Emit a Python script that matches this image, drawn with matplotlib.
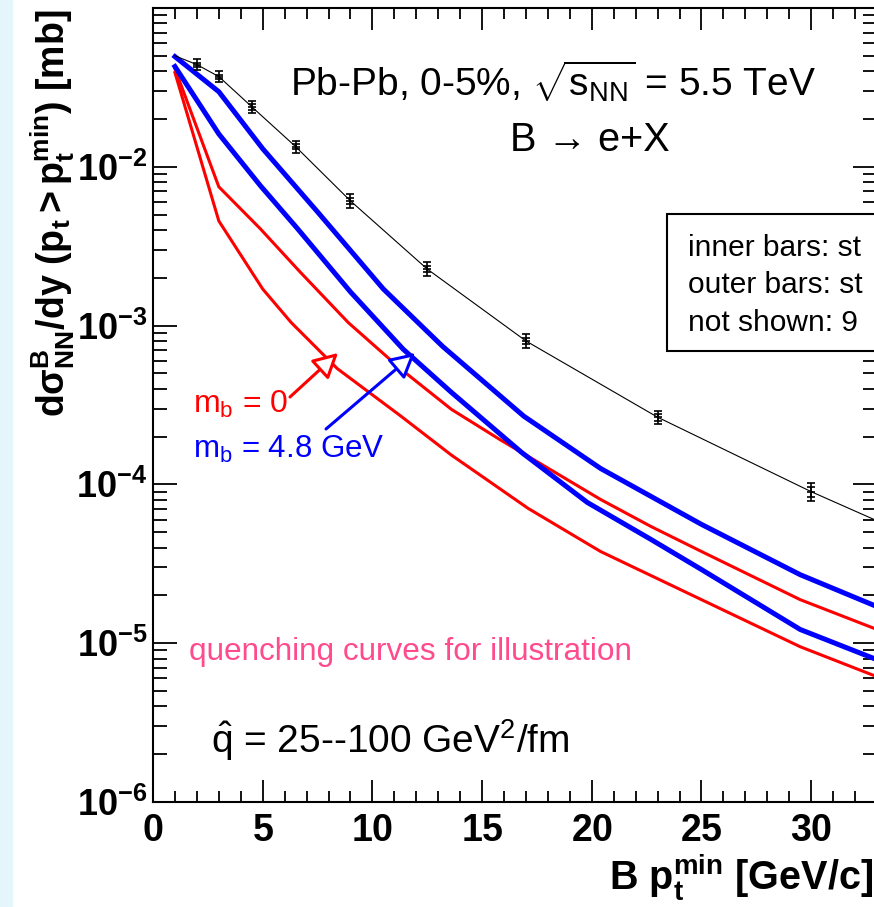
import matplotlib
matplotlib.use('Agg')
import matplotlib.pyplot as plt
from matplotlib.patches import Rectangle
from matplotlib.ticker import FixedLocator, MultipleLocator, LogLocator, NullFormatter, FuncFormatter
import numpy as np

plt.rcParams['font.family'] = ['Liberation Sans', 'DejaVu Sans']
plt.rcParams['mathtext.fontset'] = 'custom'
plt.rcParams['mathtext.rm'] = 'Liberation Sans'
plt.rcParams['mathtext.it'] = 'Liberation Sans:italic'
plt.rcParams['mathtext.bf'] = 'Liberation Sans:bold'
plt.rcParams['mathtext.default'] = 'regular'

# ---------------- data ----------------
# reference (no quenching) with error bars
ref_curve_x = [1, 2, 3, 4.5, 6.5, 9, 12.5, 17, 23, 30, 33]
ref_curve_y = [5.0e-2, 4.40e-2, 3.70e-2, 2.39e-2, 1.34e-2, 6.1e-3, 2.27e-3, 8.0e-4, 2.65e-4, 9.0e-5, 5.9e-5]
pt_x = [2, 3, 4.5, 6.5, 9, 12.5, 17, 23, 30]
pt_y = [4.40e-2, 3.70e-2, 2.39e-2, 1.34e-2, 6.1e-3, 2.27e-3, 8.0e-4, 2.65e-4, 9.0e-5]
err_inner_rel = [0.03, 0.03, 0.04, 0.04, 0.04, 0.04, 0.04, 0.05, 0.07]
err_outer_rel = [0.08, 0.08, 0.09, 0.09, 0.10, 0.10, 0.10, 0.10, 0.13]

# m_b = 4.8 GeV (blue)
blue1_x = [1, 3, 5, 7.5, 10.5, 13.2, 16.9, 20.4, 25, 29.5, 33]
blue1_y = [4.94e-2, 2.97e-2, 1.30e-2, 5.2e-3, 1.7e-3, 7.4e-4, 2.69e-4, 1.26e-4, 5.6e-5, 2.7e-5, 1.7e-5]
blue2_x = [1, 3, 4.9, 6.6, 9, 11.4, 13.6, 16.8, 19.8, 22.7, 25, 29.5, 33]
blue2_y = [4.28e-2, 1.61e-2, 7.59e-3, 4.06e-3, 1.63e-3, 7.11e-4, 3.80e-4, 1.59e-4, 7.69e-5, 4.50e-5, 2.91e-5, 1.22e-5, 7.87e-6]

# m_b = 0 (red)
red1_x = [1, 3, 4.9, 6.7, 8.9, 11.3, 13.6, 15.8, 20.4, 22.7, 25, 29.5, 33]
red1_y = [4.15e-2, 7.48e-3, 4.06e-3, 2.18e-3, 1.045e-3, 5.32e-4, 2.97e-4, 1.92e-4, 8.04e-5, 5.43e-5, 3.78e-5, 1.88e-5, 1.22e-5]
red2_x = [1, 3, 5, 6.3, 8.4, 11.3, 13.6, 17.1, 20.4, 25, 29.5, 33]
red2_y = [3.92e-2, 4.56e-3, 1.70e-3, 1.045e-3, 5.36e-4, 2.69e-4, 1.53e-4, 7.06e-5, 3.78e-5, 1.88e-5, 9.5e-6, 6.15e-6]

x_ticks = [0, 5, 10, 15, 20, 25, 30]
y_ticks = [1e-6, 1e-5, 1e-4, 1e-3, 1e-2]

# ---------------- figure ----------------
W, H = 874, 907
fig = plt.figure(figsize=(W / 100, H / 100), dpi=100, facecolor='white')
fig.patches.append(Rectangle((0, 0), 12 / W, 1, transform=fig.transFigure,
                             color='#e4f6fb', zorder=0))

ax = fig.add_axes([153 / W, 1 - 802 / H, (877 - 153) / W, (802 - 8) / H])
ax.set_yscale('log')
ax.set_xlim(0, 33)
ax.set_ylim(1e-6, 1e-1)

for s in ax.spines.values():
    s.set_linewidth(1.5)

ax.plot(red1_x, red1_y, color='#ff0000', lw=2.2, zorder=3)
ax.plot(red2_x, red2_y, color='#ff0000', lw=2.2, zorder=3)
ax.plot(blue1_x, blue1_y, color='#0000ff', lw=3.6, zorder=4)
ax.plot(blue2_x, blue2_y, color='#0000ff', lw=3.6, zorder=4)
ax.plot(ref_curve_x, ref_curve_y, color='black', lw=0.8, zorder=5)

py = np.array(pt_y)
eo = np.array(err_outer_rel) * py
ei = np.array(err_inner_rel) * py
ax.errorbar(pt_x, pt_y, yerr=eo, fmt='none', ecolor='black', elinewidth=1.2,
            capsize=2.8, capthick=1.2, zorder=6)
ax.errorbar(pt_x, pt_y, yerr=ei, fmt='none', ecolor='black', elinewidth=1.2,
            capsize=2.8, capthick=1.2, zorder=6)
ax.plot(pt_x, pt_y, linestyle='none', marker='_', ms=6, mew=1.2, color='black', zorder=6)

# ticks
ax.xaxis.set_major_locator(FixedLocator(x_ticks))
ax.xaxis.set_minor_locator(MultipleLocator(1))
ax.yaxis.set_major_locator(FixedLocator(y_ticks))
ax.yaxis.set_minor_locator(LogLocator(base=10, subs=range(2, 10), numticks=20))
ax.yaxis.set_minor_formatter(NullFormatter())
ax.xaxis.set_major_formatter(FuncFormatter(lambda v, p: r'$\mathbf{%d}$' % round(v)))
ax.yaxis.set_major_formatter(FuncFormatter(lambda v, p: r'$\mathbf{10^{%d}}$' % round(np.log10(v))))
ax.tick_params(which='both', direction='in', top=True, right=True, width=1.3, colors='black')
ax.tick_params(axis='x', which='major', length=15.8, labelsize=27, pad=8)
ax.tick_params(axis='x', which='minor', length=8)
ax.tick_params(axis='y', which='major', length=17.3, labelsize=26, pad=4)
ax.tick_params(axis='y', which='minor', length=10)

# axis titles
fig.text(873 / W, 1 - 890 / H, r'$\mathbf{B\ p_{t}^{min}\ [GeV/c]}$', ha='right',
         va='baseline', fontsize=28.5)
fig.text(65 / W, 1 - 10 / H, r'$\mathbf{d\sigma^{B}_{NN}/dy\ (p_{t} > p_{t}^{min})\ [mb]}$',
         rotation=90, rotation_mode='anchor', ha='right', va='baseline', fontsize=27)

# annotations
fig.text(290 / W, 1 - 96 / H, r'Pb-Pb, 0-5%, $\sqrt{s_{NN}}$ = 5.5 TeV', fontsize=28,
         va='baseline', ha='left')
fig.text(510 / W, 1 - 151 / H, 'B \u2192 e+X', fontsize=28.5, va='baseline', ha='left')

fig.text(193 / W, 1 - 413 / H, r'm$_{b}$ = 0', color='#ff0000', fontsize=23, va='baseline')
fig.text(193 / W, 1 - 458 / H, r'm$_{b}$ = 4.8 GeV', color='#0000ff', fontsize=22.5, va='baseline')
fig.text(189 / W, 1 - 660 / H, 'quenching curves for illustration', color='#ff4a8d',
         fontsize=22.7, va='baseline')
fig.text(211 / W, 1 - 753 / H, r'$\hat{q}$ = 25--100 GeV$^{2}$/fm', color='black',
         fontsize=28, va='baseline')

ax.annotate('', xy=(338, H - 353), xycoords='figure pixels',
            xytext=(290, H - 397), textcoords='figure pixels',
            arrowprops=dict(arrowstyle='-|>,head_length=1.5,head_width=0.8',
                            fc='white', ec='#ff0000', lw=2.2, shrinkA=0, shrinkB=0),
            zorder=8)
ax.annotate('', xy=(415, H - 353), xycoords='figure pixels',
            xytext=(326, H - 429), textcoords='figure pixels',
            arrowprops=dict(arrowstyle='-|>,head_length=1.5,head_width=0.8',
                            fc='white', ec='#0000ff', lw=2.2, shrinkA=0, shrinkB=0),
            zorder=8)

# info box (cut by the right edge of the picture)
fig.patches.append(Rectangle((667 / W, 1 - 351 / H), (900 - 667) / W, (351 - 214) / H,
                             transform=fig.transFigure, facecolor='white',
                             edgecolor='black', lw=1.5, zorder=5))
box_lines = ['inner bars: st', 'outer bars: st', 'not shown: 9']
for txt, yb in zip(box_lines, [256, 293, 331]):
    fig.text(688 / W, 1 - yb / H, txt, fontsize=21.5, va='baseline', ha='left', zorder=6)

fig.savefig('out.png', dpi=100, facecolor='white')
